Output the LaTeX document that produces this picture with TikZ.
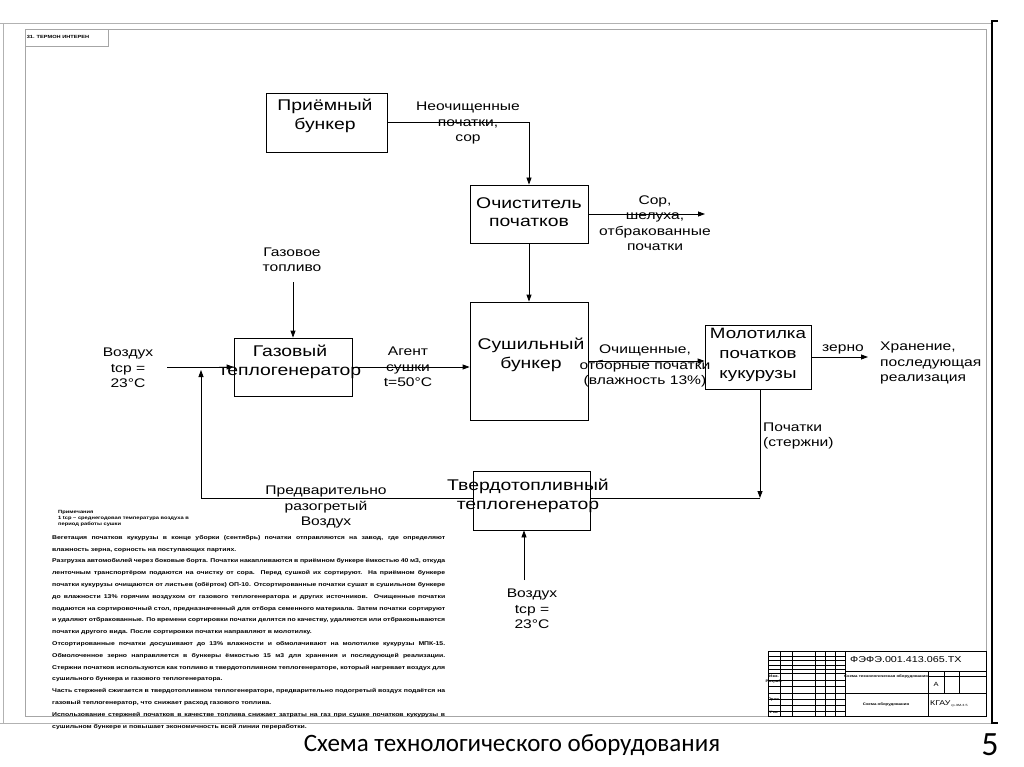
\documentclass[tikz,border=0pt]{standalone}
\usepackage{fontspec}
\setmainfont{Liberation Sans}[FakeStretch=1.25]
\newfontfamily\capfont{Carlito}
\usepackage{tikz}
\usetikzlibrary{arrows.meta}
\tikzset{
  unit/.style = {draw=black, line width=0.8pt, inner sep=0pt},
  unittxt/.style = {align=center, inner sep=0pt, font=\fontsize{15.5}{18.5}\selectfont},
  flowlbl/.style = {align=center, inner sep=0pt, font=\fontsize{12.5}{15.5}\selectfont},
  flow/.style = {line width=0.8pt, -{Triangle[length=7pt,width=5pt]}},
  pipe/.style = {line width=0.8pt},
  sheet/.style = {draw=black!30, line width=1pt},
  stamp/.style = {draw=black, line width=0.5pt},
  tiny/.style = {inner sep=0pt, font=\fontsize{3.5}{4}\selectfont\bfseries},
}

\begin{document}
\begin{tikzpicture}[x=1pt,y=-1pt]
\useasboundingbox (0,0) rectangle (1024,767);
\fill[white] (0,0) rectangle (1024,767);

% sheet frame
\draw[sheet] (0,24) -- (991,24);
\draw[sheet] (3,24) -- (3,723);
\draw[sheet] (0,723) -- (991,723);
\draw[draw=black!35, line width=0.8pt] (25,29) rectangle (986,716);
\draw[line width=1.4pt] (998,21) -- (992,21) -- (992,723) -- (998,723);
\draw[draw=black!35, line width=0.8pt] (25,29) rectangle (108,46);
\node[tiny, font=\fontsize{4.5}{5}\selectfont\bfseries] (corner) at (58,37) {31. ТЕРМОН ИНТЕРЕН};

% units
\node[unit, minimum width=121pt, minimum height=59pt] (recv) at (326.5,122.5) {};
\node[unittxt] (recvtxt) at (325,116) {Приёмный\\бункер};
\node[unit, minimum width=118pt, minimum height=58pt] (clean) at (529,214) {};
\node[unittxt] (cleantxt) at (529,212) {Очиститель\\початков};
\node[unit, minimum width=118pt, minimum height=118pt] (dryer) at (529,361) {};
\node[unittxt] (dryertxt) at (531,355) {Сушильный\\бункер};
\node[unit, minimum width=118pt, minimum height=58pt] (gasgen) at (293,367) {};
\node[unittxt] (gasgentxt) at (290,362) {Газовый\\теплогенератор};
\node[unit, minimum width=106pt, minimum height=64pt] (thresher) at (758,357) {};
\node[unittxt, font=\fontsize{15}{20}\selectfont] (threshertxt) at (758,355) {Молотилка\\початков\\кукурузы};
\node[unit, minimum width=117pt, minimum height=59pt] (solidgen) at (531.5,500.5) {};
\node[unittxt] (solidgentxt) at (528,496) {Твердотопливный\\теплогенератор};

% free ends
\coordinate (waste) at (705,214);
\coordinate (fuel) at (293,282);
\coordinate (airin) at (167,367);
\coordinate (store) at (868,357);
\coordinate (cobs) at (760,498);
\coordinate (preair) at (201,370);
\coordinate (airlow) at (524,580);

% flows
\draw[flow] (recv.east) -| (clean.north);
\draw[flow] (clean.east) -- (waste);
\draw[flow] (clean.south) -- (dryer.north);
\draw[flow] (fuel) -- (gasgen.north);
\draw[flow] (airin) -- (gasgen.west);
\draw[flow] (gasgen.east) -- (gasgen.east -| dryer.west);
\draw[flow] (dryer.east) -- (dryer.east -| thresher.west);
\draw[flow] (thresher.east) -- (store);
\draw[flow] (thresher.south -| cobs) -- (cobs);
\draw[pipe] (cobs) -- (cobs -| solidgen.east);
\draw[flow] (solidgen.west |- cobs) -| (preair);
\draw[flow] (airlow) -- (airlow |- solidgen.south);

% flow labels
\node[flowlbl] (rawlbl) at (468,123) {Неочищенные\\початки,\\сор};
\node[flowlbl] (wastelbl) at (655,223) {Сор,\\шелуха,\\отбракованные\\початки};
\node[flowlbl] (fuellbl) at (292,260) {Газовое\\топливо};
\node[flowlbl] (airlbl) at (128,368) {Воздух\\tср =\\23°С};
\node[flowlbl] (agentlbl) at (408,367) {Агент\\сушки\\t=50°С};
\node[flowlbl] (cleanlbl) at (645,366) {Очищенные,\\отборные початки\\(влажность 13\%)};
\node[flowlbl] (grainlbl) at (843,349) {зерно};
\node[flowlbl, align=left, anchor=west] (storelbl) at (880,363) {Хранение,\\последующая\\реализация};
\node[flowlbl, align=left, anchor=west] (cobslbl) at (763,436) {Початки\\(стержни)};
\node[flowlbl] (prelbl) at (326,507) {Предварительно\\разогретый\\Воздух};
\node[flowlbl] (airlowlbl) at (532,609) {Воздух\\tср =\\23°С};

% notes
\node[inner sep=0pt, anchor=north west, align=left, font=\fontsize{4.6}{6}\selectfont\bfseries] (notehead) at (58,510)
  {Примечания\\1 tср – среднегодовая температура воздуха в\\период работы сушки};
\node[inner sep=0pt, anchor=north west, text width=393pt, align=justify, font=\fontsize{5.5}{11.8}\selectfont\bfseries] (notes) at (52,535)
  {Вегетация початков кукурузы в конце уборки (сентябрь) початки отправляются на завод, где определяют влажность зерна, сорность на поступающих партиях.\par
   Разгрузка автомобилей через боковые борта. Початки накапливаются в приёмном бункере ёмкостью 40 м3, откуда ленточным транспортёром подаются на очистку от сора. Перед сушкой их сортируют. На приёмном бункере початки кукурузы очищаются от листьев (обёрток) ОП-10. Отсортированные початки сушат в сушильном бункере до влажности 13\% горячим воздухом от газового теплогенератора и других источников. Очищенные початки подаются на сортировочный стол, предназначенный для отбора семенного материала. Затем початки сортируют и удаляют отбракованные. По времени сортировки початки делятся по качеству, удаляются или отбраковываются початки другого вида. После сортировки початки направляют в молотилку.\par
   Отсортированные початки досушивают до 13\% влажности и обмолачивают на молотилке кукурузы МПК-15. Обмолоченное зерно направляется в бункеры ёмкостью 15 м3 для хранения и последующей реализации. Стержни початков используются как топливо в твердотопливном теплогенераторе, который нагревает воздух для сушильного бункера и газового теплогенератора.\par
   Часть стержней сжигается в твердотопливном теплогенераторе, предварительно подогретый воздух подаётся на газовый теплогенератор, что снижает расход газового топлива.\par
   Использование стержней початков в качестве топлива снижает затраты на газ при сушке початков кукурузы в сушильном бункере и повышает экономичность всей линии переработки.};

% title block
\draw[stamp, line width=0.8pt] (768,651) rectangle (986,716);
\foreach \xx in {780,792,815,825,835,845}
  \draw[stamp] (\xx,651) -- (\xx,716);
\foreach \yy in {656,660,665,669,680,686,693,699,705,711}
  \draw[stamp] (768,\yy) -- (845,\yy);
\draw[stamp, line width=0.8pt] (768,673) -- (845,673);
\draw[stamp, line width=0.8pt] (845,671) -- (986,671);
\draw[stamp] (845,693) -- (986,693);
\draw[stamp] (928,671) -- (928,716);
\foreach \xx in {944,959}
  \draw[stamp] (\xx,671) -- (\xx,693);
\draw[stamp] (928,676) -- (986,676);
\node[inner sep=0pt, anchor=west, font=\fontsize{8.6}{9}\selectfont] (code) at (850,660) {ФЭФЭ.001.413.065.ТХ};
\node[tiny] (sheetname) at (886,677) {Схема технологическая оборудования};
\node[tiny] (docname) at (886,705) {Схема оборудования};
\node[inner sep=0pt, font=\fontsize{6}{6}\selectfont] (lit) at (936,684) {А};
\node[inner sep=0pt, anchor=west, font=\fontsize{7}{7}\selectfont] (org) at (930,704) {КГАУ\textsubscript{\,\fontsize{3}{3}\selectfont гр.ЗМ-3.5}};
\node[tiny] at (774,676) {Изм.};
\node[tiny] at (774,682) {Разраб.};
\node[tiny] at (774,700) {Пров.};
\node[tiny] at (774,712) {Утв.};

% slide caption
\node[inner sep=0pt, font=\fontsize{25}{25}\capfont] (caption) at (512,745) {Схема технологического оборудования};
\node[inner sep=0pt, font=\fontsize{34}{34}\capfont] (pageno) at (990,745) {5};
\end{tikzpicture}
\end{document}
